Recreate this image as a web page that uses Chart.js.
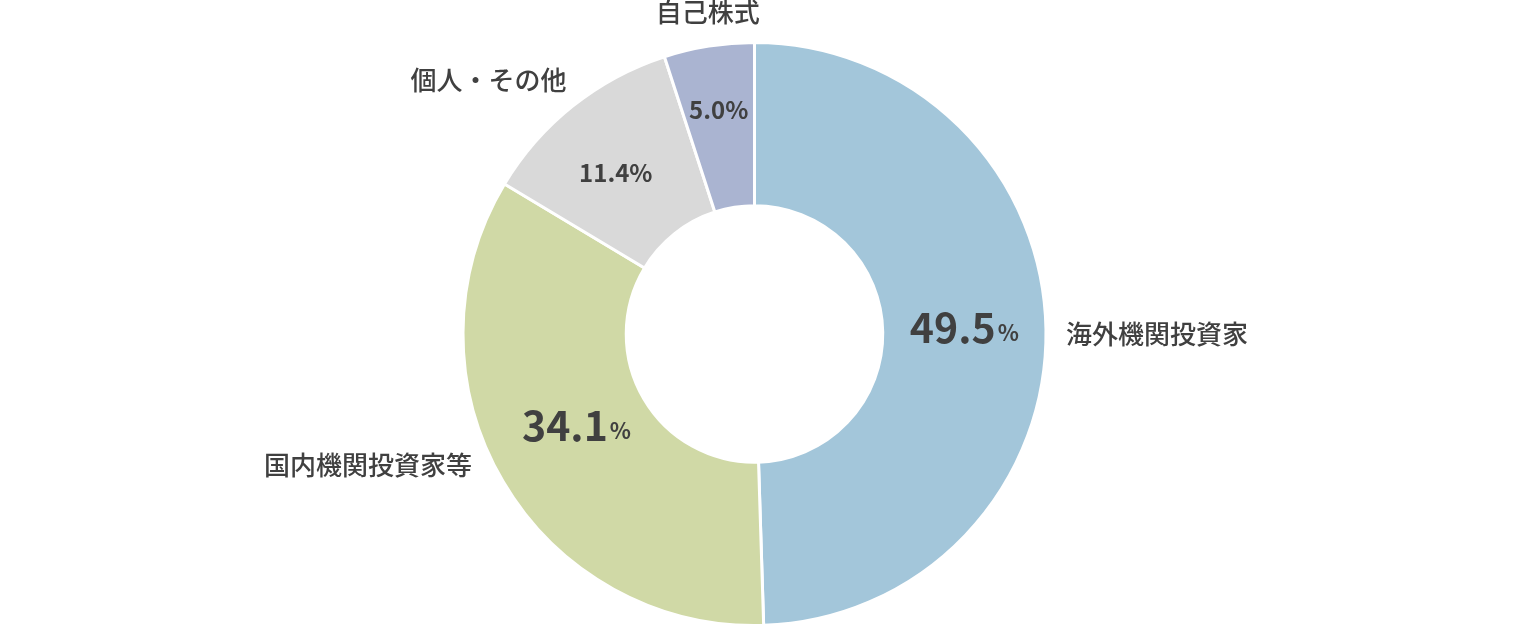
<!DOCTYPE html>
<html lang="ja">
<head>
<meta charset="utf-8">
<script src="https://cdn.jsdelivr.net/npm/chart.js@4/dist/chart.umd.min.js"></script>
<style>
  html, body { margin: 0; padding: 0; background: #fff; }
  #wrap { width: 1520px; height: 632px; }
</style>
</head>
<body>
<div id="wrap"><canvas id="shareChart" width="1520" height="632"></canvas></div>
<script>
// Shareholder composition (percent)
const categories = ["海外機関投資家", "国内機関投資家等", "個人・その他", "自己株式"];
const shares = [49.5, 34.1, 11.4, 5.0];
const sliceColors = ["#a3c6da", "#d0d9a6", "#d9d9d9", "#aab4d1"];

const FONT = '"Noto Sans CJK JP", "Noto Sans", sans-serif';
const TEXT = "#404040";

// Per-slice label placement (tweaks relative to arc geometry)
const labelStyle = [
  { big: true,  inDx: 0,  inDy: -3,  out: "left",   outDx: 0,   outDy: 5 },
  { big: true,  inDx: 3,  inDy: -15, out: "right",  outDx: -14, outDy: -27 },
  { big: false, inDx: -8, inDy: 3,   out: "right",  outDx: 6,   outDy: -10 },
  { big: false, inDx: -3, inDy: -17, out: "center", outDx: 2,   outDy: -14 },
];

const sliceLabels = {
  id: "sliceLabels",
  afterDatasetsDraw(chart) {
    const ctx = chart.ctx;
    const arcs = chart.getDatasetMeta(0).data;
    ctx.save();
    ctx.fillStyle = TEXT;
    ctx.textBaseline = "middle";
    arcs.forEach((arc, i) => {
      const st = labelStyle[i];
      const p = arc.tooltipPosition();
      const num = shares[i].toFixed(1);

      // value inside the ring
      if (st.big) {
        ctx.font = "bold 41px " + FONT;
        const wNum = ctx.measureText(num).width;
        ctx.font = "bold 22px " + FONT;
        const wPct = ctx.measureText("%").width;
        const x0 = p.x + st.inDx - (wNum + wPct + 2) / 2;
        const y = p.y + st.inDy;
        ctx.textAlign = "left";
        ctx.font = "bold 41px " + FONT;
        ctx.fillText(num, x0, y);
        ctx.font = "bold 22px " + FONT;
        ctx.fillText("%", x0 + wNum + 2, y + 5);
      } else {
        ctx.font = "bold 24px " + FONT;
        ctx.textAlign = "center";
        ctx.fillText(num + "%", p.x + st.inDx, p.y + st.inDy);
      }

      // category name outside the ring
      const mid = (arc.startAngle + arc.endAngle) / 2;
      const r = arc.outerRadius + 20;
      const ox = arc.x + Math.cos(mid) * r + st.outDx;
      const oy = arc.y + Math.sin(mid) * r + st.outDy;
      ctx.font = "500 26px " + FONT;
      ctx.textAlign = st.out;
      ctx.fillText(categories[i], ox, oy);
    });
    ctx.restore();
  }
};

new Chart(document.getElementById("shareChart"), {
  type: "doughnut",
  data: {
    labels: categories,
    datasets: [{
      data: shares,
      backgroundColor: sliceColors,
      borderColor: "#ffffff",
      borderWidth: 3,
    }],
  },
  options: {
    responsive: false,
    animation: false,
    cutout: "44%",
    layout: { padding: { top: 41, bottom: 5, left: 0, right: 11 } },
    plugins: {
      legend: { display: false },
      tooltip: { enabled: false },
    },
  },
  plugins: [sliceLabels],
});
</script>
</body>
</html>
